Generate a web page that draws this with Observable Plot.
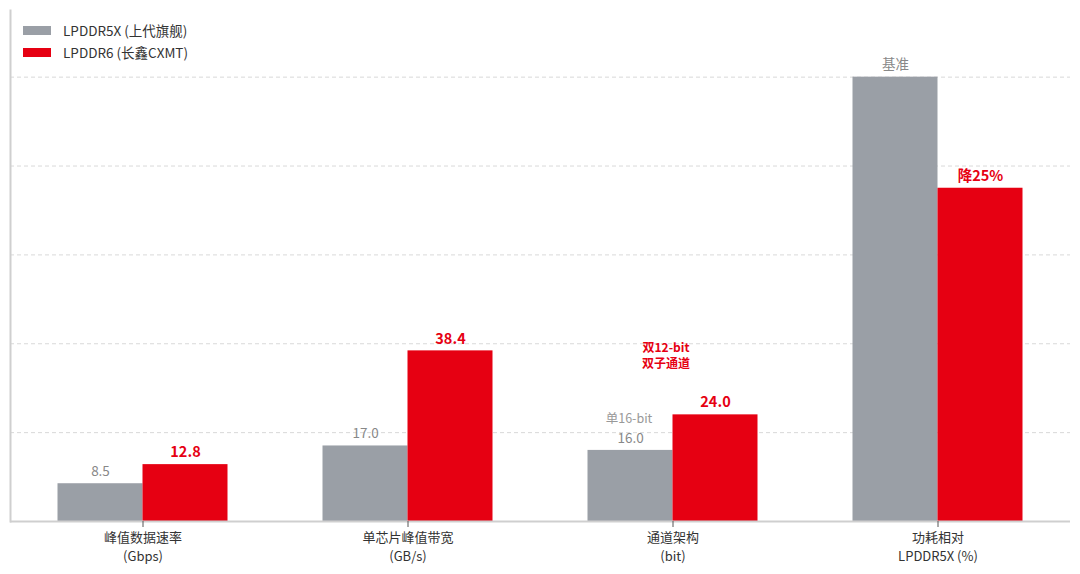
<!DOCTYPE html>
<html>
<head>
<meta charset="utf-8">
<script src="https://cdn.jsdelivr.net/npm/d3@7"></script>
<script src="https://cdn.jsdelivr.net/npm/@observablehq/plot@0.6"></script>
<style>
  body { margin: 0; background: #fff; font-family: "Noto Sans CJK SC", "Noto Sans", sans-serif; }
  #wrap { position: relative; width: 1080px; height: 574px; }
  #legend { position: absolute; left: 23px; top: 19px; font-size: 13.5px; color: #333; }
  .item { display: flex; align-items: center; height: 22px; }
  .sw { width: 28px; height: 9px; margin-right: 12px; }
</style>
</head>
<body>
<div id="wrap">
  <div id="chart"></div>
  <div id="legend"></div>
</div>
<script>
const categories = ["峰值数据速率\n(Gbps)", "单芯片峰值带宽\n(GB/s)", "通道架构\n(bit)", "功耗相对\nLPDDR5X (%)"];
const seriesNames = ["LPDDR5X (上代旗舰)", "LPDDR6 (长鑫CXMT)"];
const seriesColors = ["#9a9fa6", "#e60012"];
const lpddr5x = [8.5, 17.0, 16.0, 100];
const lpddr6 = [12.8, 38.4, 24.0, 75];
const labels5x = ["8.5", "17.0", "16.0", "基准"];
const labels6 = ["12.8", "38.4", "24.0", "降25%"];
const gridValues = [20, 40, 60, 80, 100];
const note5x = {cat: categories[2], value: lpddr5x[2], text: "单16-bit"};
const note6 = {cat: categories[2], value: lpddr6[2], text: "双12-bit\n双子通道"};

const rows5x = categories.map((c, i) => ({cat: c, value: lpddr5x[i], label: labels5x[i]}));
const rows6 = categories.map((c, i) => ({cat: c, value: lpddr6[i], label: labels6[i]}));

const chart = Plot.plot({
  width: 1080,
  height: 574,
  marginTop: 10,
  marginBottom: 53,
  marginLeft: 10,
  marginRight: 10,
  style: {fontFamily: "'Noto Sans CJK SC', 'Noto Sans', sans-serif", fontSize: "13px", background: "#fff"},
  x: {domain: categories, padding: 0, axis: null},
  y: {domain: [0, 115], axis: null},
  marks: [
    Plot.ruleY(gridValues, {stroke: "#d9d9d9", strokeDasharray: "4,3", strokeWidth: 1}),
    Plot.barY(rows5x, {x: "cat", y: "value", fill: seriesColors[0], insetLeft: 47.5, insetRight: 132.5}),
    Plot.barY(rows6, {x: "cat", y: "value", fill: seriesColors[1], insetLeft: 132.5, insetRight: 47.5}),
    Plot.text(rows5x, {x: "cat", y: "value", text: "label", dx: -42.5, dy: -12, fill: "#888", fontSize: 13.5}),
    Plot.text(rows6, {x: "cat", y: "value", text: "label", dx: 42.5, dy: -12, fill: seriesColors[1], fontSize: 14.5, fontWeight: "bold"}),
    Plot.text([note5x], {x: "cat", y: "value", text: "text", dx: -44, dy: -31, fill: "#999", fontSize: 12.5}),
    Plot.text([note6], {x: "cat", y: "value", text: "text", dx: -7, dy: -60, fill: seriesColors[1], fontSize: 12, fontWeight: "bold", lineHeight: 1.3}),
    Plot.ruleY([0], {stroke: "#cfcfcf", strokeWidth: 2}),
    Plot.frame({anchor: "left", stroke: "#cfcfcf", strokeWidth: 2}),
    Plot.axisX({tickSize: 6, tickPadding: 1, stroke: "#555", fill: "#333", fontSize: 13, label: null, lineHeight: 1.45})
  ]
});
document.getElementById("chart").appendChild(chart);

const legend = document.getElementById("legend");
seriesNames.forEach((name, i) => {
  const item = document.createElement("div");
  item.className = "item";
  item.innerHTML = `<span class="sw" style="background:${seriesColors[i]}"></span><span>${name}</span>`;
  legend.appendChild(item);
});
</script>
</body>
</html>
